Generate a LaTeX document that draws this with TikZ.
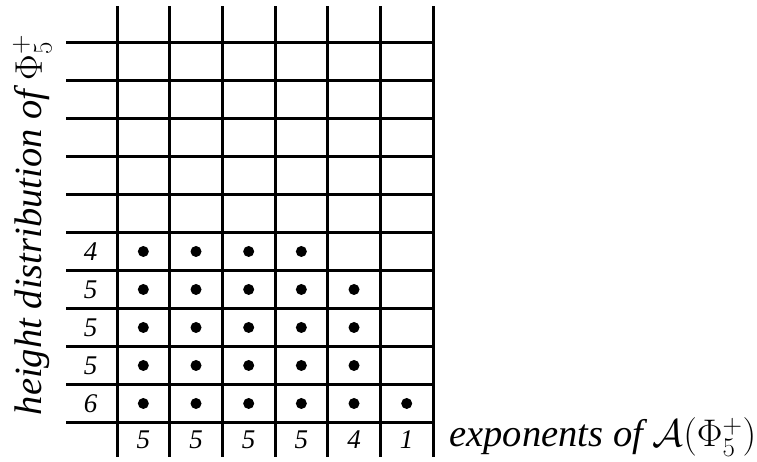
\RequirePackage{fix-cm}
\documentclass[tikz,border=0pt]{standalone}
\usepackage{fontspec}
\setmainfont{Liberation Serif}[ItalicFont={Liberation Serif Italic}]
\tikzset{numlabel/.style={font=\fontsize{27}{32}\selectfont\itshape},
  axislabel/.style={font=\fontsize{38.5}{44}\selectfont\itshape}}
\begin{document}
\begin{tikzpicture}[x=52.67pt,y=38pt,line width=3pt]
  \useasboundingbox (-2.2214,-1.0395) rectangle (12.151,11.118);
  \foreach \x in {0,...,6}
    \draw (\x,-0.908) -- (\x,10.96);
  \foreach \y in {0,...,10}
    \draw (-0.968,\y) -- (6,\y);
  \foreach \h [count=\c] in {5,5,5,5,4,1} {
    \node[numlabel] (e\c) at (\c-0.5,-0.46) {\h};
    \foreach \r in {1,...,\h}
      \fill (\c-0.5,\r-0.5) circle (5.5pt);
  }
  \foreach \n [count=\r] in {6,5,5,5,4}
    \node[numlabel] (h\r) at (-0.5,\r-0.5) {\n};
  \node[axislabel,rotate=90,anchor=base] (heightlabel) at (-1.424,5.2)
    {height distribution of $\Phi_5^+$};
  \node[axislabel,anchor=base west,inner sep=0pt] (explabel) at (6.284,-0.645)
    {exponents of $\mathcal{A}(\Phi_5^+)$};
\end{tikzpicture}
\end{document}
